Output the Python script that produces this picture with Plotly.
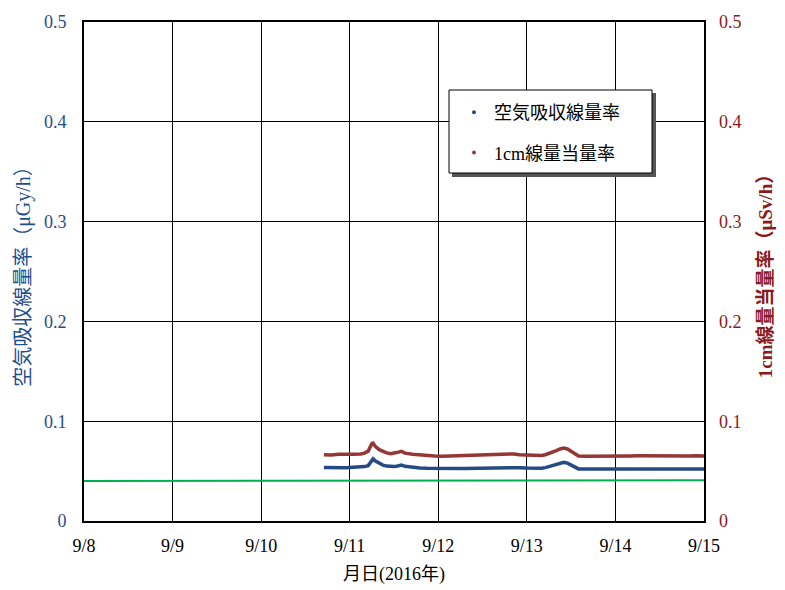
import plotly.graph_objects as go

# ---- data ----
times = [
    "2016-09-10 17:00", "2016-09-10 19:00", "2016-09-10 21:00", "2016-09-10 23:00",
    "2016-09-11 01:00", "2016-09-11 03:00", "2016-09-11 04:00", "2016-09-11 05:00",
    "2016-09-11 06:00", "2016-09-11 06:20", "2016-09-11 07:00", "2016-09-11 08:00",
    "2016-09-11 09:00", "2016-09-11 10:00", "2016-09-11 11:00", "2016-09-11 12:00",
    "2016-09-11 13:00", "2016-09-11 14:00", "2016-09-11 15:00", "2016-09-11 17:00",
    "2016-09-11 19:00", "2016-09-11 21:00", "2016-09-11 23:00", "2016-09-12 01:00",
    "2016-09-12 03:00", "2016-09-12 05:00", "2016-09-12 07:00", "2016-09-12 09:00",
    "2016-09-12 11:00", "2016-09-12 13:00", "2016-09-12 15:00", "2016-09-12 17:00",
    "2016-09-12 19:00", "2016-09-12 20:30", "2016-09-12 22:00", "2016-09-13 00:00",
    "2016-09-13 02:00", "2016-09-13 04:00", "2016-09-13 05:00", "2016-09-13 06:00",
    "2016-09-13 07:00", "2016-09-13 08:00", "2016-09-13 09:00", "2016-09-13 10:00",
    "2016-09-13 11:00", "2016-09-13 12:00", "2016-09-13 13:00", "2016-09-13 14:00",
    "2016-09-13 16:00", "2016-09-13 18:00", "2016-09-13 20:00", "2016-09-13 22:00",
    "2016-09-14 00:00", "2016-09-14 02:00", "2016-09-14 04:00", "2016-09-14 06:00",
    "2016-09-14 08:00", "2016-09-14 10:00", "2016-09-14 12:00", "2016-09-14 14:00",
    "2016-09-14 16:00", "2016-09-14 18:00", "2016-09-14 20:00", "2016-09-14 22:00",
    "2016-09-15 00:00",
]

air_dose_rate = [  # 空気吸収線量率 (μGy/h)
    0.0535, 0.0532, 0.0536, 0.0534,
    0.0538, 0.0537, 0.0545, 0.0555,
    0.0615, 0.0622, 0.0600, 0.0575,
    0.0560, 0.0550, 0.0545, 0.0545,
    0.0552, 0.0560, 0.0548, 0.0538,
    0.0532, 0.0528, 0.0526, 0.0525,
    0.0527, 0.0525, 0.0527, 0.0528,
    0.0527, 0.0528, 0.0530, 0.0531,
    0.0535, 0.0540, 0.0534, 0.0530,
    0.0527, 0.0528, 0.0535, 0.0545,
    0.0555, 0.0565, 0.0578, 0.0587,
    0.0580, 0.0562, 0.0535, 0.0522,
    0.0520, 0.0521, 0.0520, 0.0522,
    0.0521, 0.0520, 0.0521, 0.0522,
    0.0521, 0.0520, 0.0521, 0.0522,
    0.0521, 0.0522, 0.0521, 0.0521,
    0.0521,
]

dose_equiv_rate = [  # 1cm線量当量率 (μSv/h)
    0.0665, 0.0662, 0.0668, 0.0665,
    0.0670, 0.0672, 0.0680, 0.0700,
    0.0775, 0.0780, 0.0745, 0.0715,
    0.0695, 0.0682, 0.0675, 0.0678,
    0.0688, 0.0698, 0.0680, 0.0668,
    0.0660, 0.0655, 0.0652, 0.0650,
    0.0652, 0.0650, 0.0653, 0.0656,
    0.0654, 0.0656, 0.0658, 0.0660,
    0.0665, 0.0672, 0.0663, 0.0658,
    0.0655, 0.0656, 0.0664, 0.0675,
    0.0690, 0.0705, 0.0722, 0.0730,
    0.0722, 0.0700, 0.0670, 0.0652,
    0.0648, 0.0650, 0.0648, 0.0651,
    0.0650, 0.0651, 0.0652, 0.0653,
    0.0652, 0.0650, 0.0652, 0.0654,
    0.0653, 0.0654, 0.0652, 0.0653,
    0.0652,
]

bg_times = ["2016-09-08 00:00", "2016-09-11 00:00", "2016-09-13 00:00", "2016-09-15 00:00"]
bg_values = [0.0400, 0.0403, 0.0405, 0.0408]

x_tick_vals = ["2016-09-08", "2016-09-09", "2016-09-10", "2016-09-11",
               "2016-09-12", "2016-09-13", "2016-09-14", "2016-09-15"]
x_tick_text = ["9/8", "9/9", "9/10", "9/11", "9/12", "9/13", "9/14", "9/15"]
y_tick_vals = [0, 0.1, 0.2, 0.3, 0.4, 0.5]
y_tick_text = ["0", "0.1", "0.2", "0.3", "0.4", "0.5"]

series_names = ["空気吸収線量率", "1cm線量当量率"]

# ---- style ----
FONT = "Liberation Serif, 'Noto Sans CJK JP', serif"
BLUE = "#244B85"
RED = "#953735"
GREEN = "#00B050"
BLUE_TXT = "#1F4E8C"
RED_TXT = "#8B1A1A"

fig = go.Figure()

fig.add_trace(go.Scatter(x=bg_times, y=bg_values, mode="lines",
                         line=dict(color=GREEN, width=2), showlegend=False,
                         hoverinfo="skip"))
fig.add_trace(go.Scatter(x=times, y=air_dose_rate, mode="lines",
                         line=dict(color=BLUE, width=3.5), showlegend=False,
                         name=series_names[0]))
fig.add_trace(go.Scatter(x=times, y=dose_equiv_rate, mode="lines", yaxis="y2",
                         line=dict(color=RED, width=3.5), showlegend=False,
                         name=series_names[1]))
# legend entries (dot markers as in the reference)
fig.add_trace(go.Scatter(x=[None], y=[None], mode="markers", name=series_names[0],
                         marker=dict(color=BLUE, size=4), legendgroup="a"))
fig.add_trace(go.Scatter(x=[None], y=[None], mode="markers", name=series_names[1],
                         marker=dict(color=RED, size=4), legendgroup="b",
                         yaxis="y2"))

def px_x(px):
    return (px - 84) / 620.0

def px_y(py):
    return (521 - py) / 499.0

shapes = [
    dict(type="rect", xref="paper", yref="paper",
         x0=px_x(452), x1=px_x(656), y0=px_y(177), y1=px_y(93),
         fillcolor="#555555", line=dict(width=0), layer="above"),
    dict(type="rect", xref="paper", yref="paper",
         x0=px_x(449), x1=px_x(652), y0=px_y(173), y1=px_y(90),
         fillcolor="white", line=dict(color="black", width=1), layer="above"),
]

fig.update_layout(
    width=785, height=590,
    margin=dict(l=84, r=81, t=22, b=69),
    paper_bgcolor="white", plot_bgcolor="white",
    font=dict(family=FONT, size=18, color="black"),
    shapes=shapes,
    showlegend=True,
    legend=dict(x=px_x(454), y=px_y(94), xanchor="left", yanchor="top",
                bgcolor="rgba(0,0,0,0)", borderwidth=0,
                font=dict(family=FONT, size=18, color="black"),
                traceorder="grouped", tracegroupgap=14),
    xaxis=dict(type="date", range=[x_tick_vals[0], x_tick_vals[-1]],
               tickvals=x_tick_vals, ticktext=x_tick_text, automargin=False,
               showgrid=True, gridcolor="black", gridwidth=1,
               showline=True, linecolor="black", linewidth=2, mirror=True,
               ticks="", ticklabelstandoff=7, zeroline=False,
               tickfont=dict(family=FONT, size=18, color="black"),
               title=dict(text="月日(2016年)", standoff=13,
                          font=dict(family=FONT, size=18, color="black"))),
    yaxis=dict(range=[0, 0.5], tickvals=y_tick_vals, ticktext=y_tick_text,
               automargin=False,
               showgrid=True, gridcolor="black", gridwidth=1,
               showline=True, linecolor="black", linewidth=2, mirror=True,
               ticks="", ticklabelstandoff=12, zeroline=False,
               tickfont=dict(family=FONT, size=18, color=BLUE_TXT),
               title=dict(text="空気吸収線量率（μGy/h）", standoff=8,
                          font=dict(family=FONT, size=20, color=BLUE_TXT))),
    yaxis2=dict(range=[0, 0.5], tickvals=y_tick_vals, ticktext=y_tick_text,
                automargin=False,
                overlaying="y", side="right", showgrid=False,
                showline=False, ticks="", ticklabelstandoff=14, zeroline=False,
                tickfont=dict(family=FONT, size=18, color=RED_TXT),
                title=dict(text="<b>1cm線量当量率（μSv/h）</b>", standoff=18,
                           font=dict(family=FONT, size=19, color=RED_TXT))),
)

fig.write_html("out.html", config={"displayModeBar": False},
               post_script="document.body.style.margin='0px';document.body.style.padding='0px';")
